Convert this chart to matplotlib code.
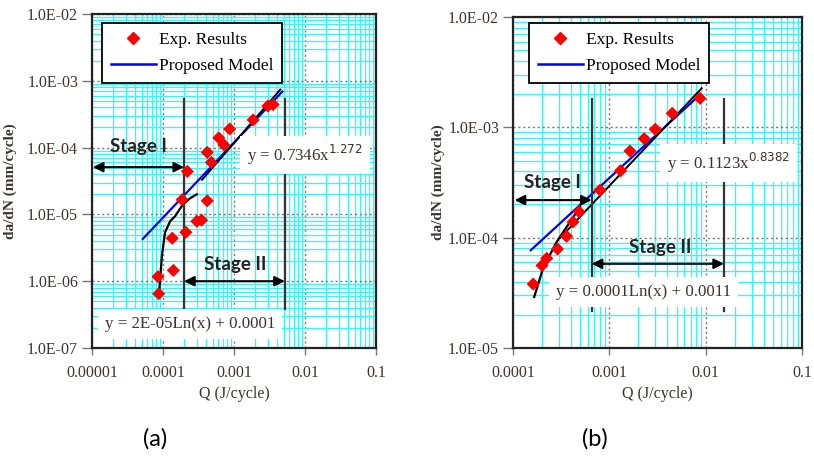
import matplotlib
matplotlib.use('Agg')
import matplotlib.pyplot as plt
from matplotlib.lines import Line2D
from matplotlib.ticker import LogLocator, FixedLocator, NullFormatter

# ---- panel (a) data ----
a_exp_q = [8.7e-5, 8.5e-5, 1.35e-4, 1.4e-4, 2.1e-4, 1.86e-4, 2.2e-4, 3.0e-4, 3.5e-4,
           4.2e-4, 4.8e-4, 4.2e-4, 6.1e-4, 7.2e-4, 8.7e-4, 1.86e-3, 3.0e-3, 3.55e-3]
a_exp_y = [6.5e-7, 1.17e-6, 4.4e-6, 1.45e-6, 5.4e-6, 1.66e-5, 4.4e-5, 7.9e-6, 8.2e-6,
           1.6e-5, 6.0e-5, 8.5e-5, 1.4e-4, 1.1e-4, 1.9e-4, 2.6e-4, 4.2e-4, 4.4e-4]
a_model_q = [5.2e-5, 4.8e-3]
a_model_y = [4.3e-6, 6.9e-4]
a_log_q = [8.8e-5, 9.1e-5, 9.7e-5, 1.07e-4, 1.26e-4, 1.48e-4, 1.9e-4, 2.4e-4, 3.0e-4]
a_log_y = [6.0e-7, 1.07e-6, 2.5e-6, 5.4e-6, 7.9e-6, 9.4e-6, 1.4e-5, 1.74e-5, 2.0e-5]
a_pow_q = [3.55e-4, 4.5e-3]
a_pow_y = [3.3e-5, 7.4e-4]
a_stage_q = [1.98e-4, 5.2e-3]

# ---- panel (b) data ----
b_exp_q = [1.62e-4, 2.0e-4, 2.24e-4, 2.9e-4, 3.6e-4, 4.2e-4, 4.85e-4, 8.0e-4,
           1.31e-3, 1.64e-3, 2.3e-3, 3.0e-3, 4.5e-3, 8.75e-3]
b_exp_y = [3.8e-5, 5.6e-5, 6.5e-5, 7.9e-5, 1.03e-4, 1.39e-4, 1.72e-4, 2.7e-4,
           4.05e-4, 6.1e-4, 7.9e-4, 9.6e-4, 1.34e-3, 1.83e-3]
b_model_q = [1.53e-4, 7.94e-3]
b_model_y = [7.7e-5, 1.83e-3]
b_log_q = [1.66e-4, 2.07e-4, 2.85e-4, 4.97e-4]
b_log_y = [2.9e-5, 5.4e-5, 9.2e-5, 1.9e-4]
b_pow_q = [3.1e-4, 9.1e-3]
b_pow_y = [1.0e-4, 2.26e-3]
b_stage_q = [6.56e-4, 1.55e-2]

a_xticks = [1e-5, 1e-4, 1e-3, 1e-2, 1e-1]
a_xlabels = ['0.00001', '0.0001', '0.001', '0.01', '0.1']
a_yticks = [1e-7, 1e-6, 1e-5, 1e-4, 1e-3, 1e-2]
a_ylabels = ['1.0E-07', '1.0E-06', '1.0E-05', '1.0E-04', '1.0E-03', '1.0E-02']
b_xticks = [1e-4, 1e-3, 1e-2, 1e-1]
b_xlabels = ['0.0001', '0.001', '0.01', '0.1']
b_yticks = [1e-5, 1e-4, 1e-3, 1e-2]
b_ylabels = ['1.0E-05', '1.0E-04', '1.0E-03', '1.0E-02']

SERIF = 'Liberation Serif'
SANS = 'Lato'
CYAN = '#3ff2f5'
TXT = '#3a3330'


def setup_axes(ax, xticks, xlabels, yticks, ylabels):
    ax.set_xscale('log')
    ax.set_yscale('log')
    ax.set_xlim(xticks[0], xticks[-1])
    ax.set_ylim(yticks[0], yticks[-1])
    ax.xaxis.set_major_locator(FixedLocator(xticks))
    ax.yaxis.set_major_locator(FixedLocator(yticks))
    ax.xaxis.set_minor_locator(LogLocator(base=10, subs=range(2, 10), numticks=20))
    ax.yaxis.set_minor_locator(LogLocator(base=10, subs=range(2, 10), numticks=20))
    ax.xaxis.set_minor_formatter(NullFormatter())
    ax.yaxis.set_minor_formatter(NullFormatter())
    ax.set_xticklabels(xlabels, fontfamily=SERIF, fontsize=11.5, color=TXT)
    ax.set_yticklabels(ylabels, fontfamily=SERIF, fontsize=11.5, color=TXT)
    ax.grid(which='minor', color=CYAN, linewidth=1.0, zorder=0)
    ax.grid(which='major', color='#777777', linestyle=(0, (1.5, 2)), linewidth=1.0, zorder=0)
    ax.tick_params(which='minor', length=0)
    ax.tick_params(axis='y', which='major', length=7, width=1.0, color='#777777',
                   direction='out', pad=3)
    ax.tick_params(axis='x', which='major', length=5, width=1.0, color='#777777',
                   direction='out', pad=7)
    ax.set_axisbelow(True)
    for sp in ax.spines.values():
        sp.set_linewidth(1.6)
        sp.set_color('#222222')
    ax.set_xlabel('Q (J/cycle)', fontfamily=SERIF, fontsize=11.5, color=TXT, labelpad=4)
    ax.set_ylabel('da/dN (mm/cycle)', fontfamily=SERIF, fontsize=11, fontweight='bold',
                  color=TXT)


def add_legend(ax, anchor):
    handles = [Line2D([], [], marker='D', color='red', linestyle='none', markersize=6.5),
               Line2D([], [], color='blue', linewidth=1.8)]
    leg = ax.legend(handles, ['Exp. Results', 'Proposed Model'], loc='upper left',
                    bbox_to_anchor=anchor, frameon=True, fancybox=False, framealpha=1,
                    edgecolor='black', prop={'family': SERIF, 'size': 12.5},
                    handlelength=2.6, labelspacing=0.6, borderpad=0.5,
                    handletextpad=0.2, borderaxespad=0)
    leg.get_frame().set_linewidth(1.3)
    leg.set_zorder(10)


def arrow(ax, x0, x1, y):
    ax.annotate('', xy=(x0, y), xytext=(x1, y),
                arrowprops=dict(arrowstyle='<|-|>', color='black', lw=1.5,
                                mutation_scale=15, shrinkA=0, shrinkB=0), zorder=6)


def box_text(ax, x, y, s, size=12.2):
    ax.text(x, y, s, transform=ax.transAxes, ha='center', va='center',
            fontfamily=SERIF, fontsize=size, color=TXT, zorder=8,
            bbox=dict(facecolor='white', edgecolor='none', pad=5))


def stage_label(ax, x, y, s):
    ax.text(x, y, s, transform=ax.transAxes, ha='center', va='center',
            fontfamily=SANS, fontweight='bold', fontsize=13.5, color='#222222', zorder=7)


fig = plt.figure(figsize=(8.14, 4.59), dpi=100)

# ---------------- (a) ----------------
ax = fig.add_axes([0.1130, 0.2418, 0.3489, 0.7277])
setup_axes(ax, a_xticks, a_xlabels, a_yticks, a_ylabels)
ax.yaxis.set_label_coords(-0.265, 0.5)
for q in a_stage_q:
    ax.plot([q, q], [3.8e-7, 5.4e-4], color='#333333', lw=1.6, zorder=5)
ax.plot(a_model_q, a_model_y, color='blue', lw=1.6, zorder=4)
ax.plot(a_pow_q, a_pow_y, color='black', lw=1.4, zorder=4)
ax.plot(a_log_q, a_log_y, color='black', lw=1.6, zorder=4)
ax.scatter(a_exp_q, a_exp_y, marker='D', s=45, color='red', edgecolors='none', zorder=5)
arrow(ax, 1.03e-5, a_stage_q[0], 5.1e-5)
arrow(ax, a_stage_q[0], a_stage_q[1], 1.0e-6)
stage_label(ax, 0.162, 0.602, 'Stage I')
stage_label(ax, 0.504, 0.249, 'Stage II')
box_text(ax, 0.345, 0.072, 'y = 2E-05Ln(x) + 0.0001')
box_text(ax, 0.75, 0.578, r'y = 0.7346x$^{1.272}$')
add_legend(ax, (0.035, 0.973))
fig.text(0.19, 0.045, '(a)', fontfamily=SANS, fontsize=17, ha='center', va='center')

# ---------------- (b) ----------------
ax = fig.add_axes([0.6302, 0.2418, 0.3550, 0.7211])
setup_axes(ax, b_xticks, b_xlabels, b_yticks, b_ylabels)
ax.yaxis.set_label_coords(-0.235, 0.5)
for q in b_stage_q:
    ax.plot([q, q], [2.16e-5, 1.8e-3], color='#333333', lw=1.6, zorder=5)
ax.plot(b_model_q, b_model_y, color='blue', lw=1.6, zorder=4)
ax.plot(b_pow_q, b_pow_y, color='black', lw=1.4, zorder=4)
ax.plot(b_log_q, b_log_y, color='black', lw=1.6, zorder=4)
ax.scatter(b_exp_q, b_exp_y, marker='D', s=45, color='red', edgecolors='none', zorder=5)
arrow(ax, 1.04e-4, b_stage_q[0], 2.19e-4)
arrow(ax, b_stage_q[0], b_stage_q[1], 5.8e-5)
stage_label(ax, 0.135, 0.50, 'Stage I')
stage_label(ax, 0.509, 0.305, 'Stage II')
box_text(ax, 0.453, 0.169, 'y = 0.0001Ln(x) + 0.0011')
box_text(ax, 0.747, 0.559, r'y = 0.1123x$^{0.8382}$')
add_legend(ax, (0.055, 0.982))
fig.text(0.731, 0.045, '(b)', fontfamily=SANS, fontsize=17, ha='center', va='center')

fig.savefig('out.png', dpi=100)
